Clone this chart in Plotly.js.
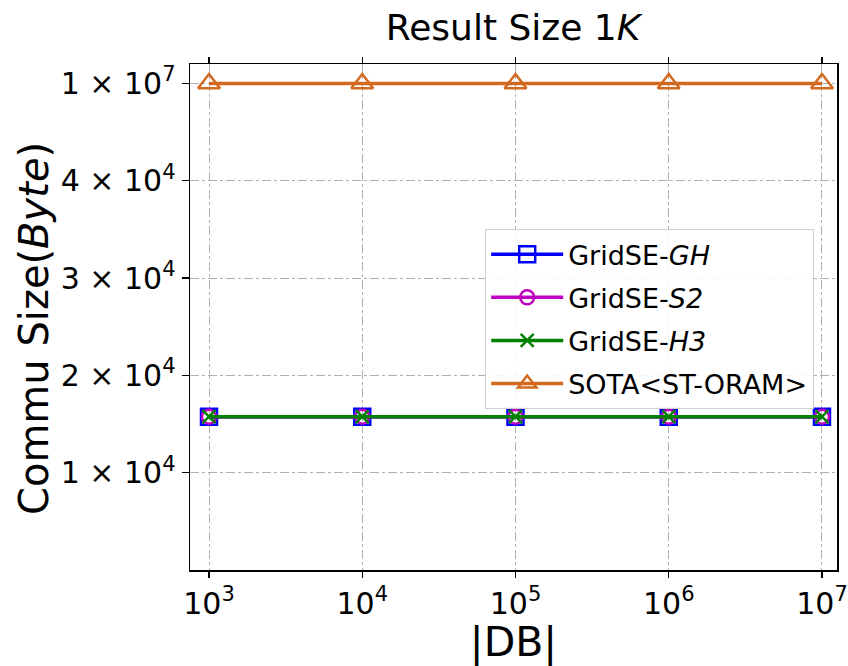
<!DOCTYPE html>
<html>
<head>
<meta charset="utf-8">
<script src="https://cdn.plot.ly/plotly-3.0.1.min.js"></script>
<style>html,body{margin:0;padding:0;background:#fff;}#chart{width:848px;height:666px;}</style>
</head>
<body>
<div id="chart"></div>
<script>
// ---- data ----
const dbSizes = [1e3, 1e4, 1e5, 1e6, 1e7];
const gridseGH = [15750, 15750, 15750, 15750, 15750];
const gridseS2 = [15750, 15750, 15750, 15750, 15750];
const gridseH3 = [15750, 15750, 15750, 15750, 15750];
const sotaSTORAM = [1e7, 1e7, 1e7, 1e7, 1e7];
const seriesNames = ['GridSE-<i>GH</i>', 'GridSE-<i>S2</i>', 'GridSE-<i>H3</i>', 'SOTA&lt;ST-ORAM&gt;'];
const xTickVals = [1e3, 1e4, 1e5, 1e6, 1e7];
const xTickText = ['10<sup>3</sup>', '10<sup>4</sup>', '10<sup>5</sup>', '10<sup>6</sup>', '10<sup>7</sup>'];
const yTickVals = [1e4, 2e4, 3e4, 4e4, 1e7];
const yTickText = ['1 × 10<sup>4</sup>', '2 × 10<sup>4</sup>', '3 × 10<sup>4</sup>', '4 × 10<sup>4</sup>', '1 × 10<sup>7</sup>'];

// broken y scale: values above the break are drawn one tick step above 4e4
const BREAK_AT = 1e6, BREAK_POS = 5e4;
const brk = v => (v >= BREAK_AT ? BREAK_POS : v);

const FONT = 'DejaVu Sans, sans-serif';
function tr(y, name, color, symbol, size, group) {
  return {
    x: dbSizes, y: y.map(brk), name: name, type: 'scatter', mode: 'lines+markers',
    legendgroup: group,
    line: {color: color, width: 3.5},
    marker: {symbol: symbol, size: size, color: color, line: {color: color, width: 2.5}}
  };
}
const data = [
  tr(gridseGH, seriesNames[0], '#0000ff', 'square-open', 16, 'a'),
  tr(gridseS2, seriesNames[1], '#bf00bf', 'circle-open', 14, 'b'),
  tr(gridseH3, seriesNames[2], '#008000', 'x-thin-open', 13, 'c'),
  tr(sotaSTORAM, seriesNames[3], '#d2691e', 'triangle-up-open', 19, 'd')
];

const layout = {
  width: 848, height: 666,
  margin: {l: 190, r: 11, t: 64, b: 96},
  paper_bgcolor: '#fff', plot_bgcolor: '#fff',
  font: {family: FONT, color: '#000'},
  showlegend: true,
  title: {text: 'Result Size 1<i>K</i>', font: {family: FONT, size: 36, color: '#000'},
          x: 0.605, xanchor: 'center', yref: 'container', y: 1 - 27/666, yanchor: 'middle'},
  xaxis: {
    type: 'log', range: [2.876, 7.098],
    tickvals: xTickVals, ticktext: xTickText,
    tickfont: {family: FONT, size: 30, color: '#000'},
    ticks: 'outside', ticklen: 6, tickwidth: 1.2, tickcolor: '#000',
    showline: true, linecolor: '#000', linewidth: 1.5, mirror: 'ticks',
    showgrid: true, gridcolor: '#b0b0b0', gridwidth: 1, griddash: 'dashdot',
    zeroline: false,
    title: {text: '|DB|', font: {family: FONT, size: 41, color: '#000'}, standoff: 8}
  },
  yaxis: {
    range: [0, 52000],
    tickvals: yTickVals.map(brk), ticktext: yTickText,
    tickfont: {family: FONT, size: 30, color: '#000'},
    ticks: 'outside', ticklen: 7, tickwidth: 1.2, tickcolor: '#000',
    showline: true, linecolor: '#000', linewidth: 1.5, mirror: true,
    showgrid: true, gridcolor: '#b0b0b0', gridwidth: 1, griddash: 'dashdot',
    zeroline: false
  },
  annotations: [{
    text: 'Commu Size(<i>Byte</i>)', textangle: -90, showarrow: false,
    xref: 'paper', yref: 'paper', x: (34 - 190) / 647, y: (570 - 329) / 506,
    xanchor: 'center', yanchor: 'middle',
    font: {family: FONT, size: 40, color: '#000'}
  }],
  legend: {
    x: (485 - 190) / 647, y: (570 - 229) / 506, xanchor: 'left', yanchor: 'top',
    bgcolor: 'rgba(255,255,255,0.9)', bordercolor: '#d0d0d0', borderwidth: 1.2,
    font: {family: FONT, size: 27, color: '#000'},
    tracegroupgap: 5, itemwidth: 72
  }
};
Plotly.newPlot('chart', data, layout, {displayModeBar: false, staticPlot: true});
</script>
</body>
</html>
